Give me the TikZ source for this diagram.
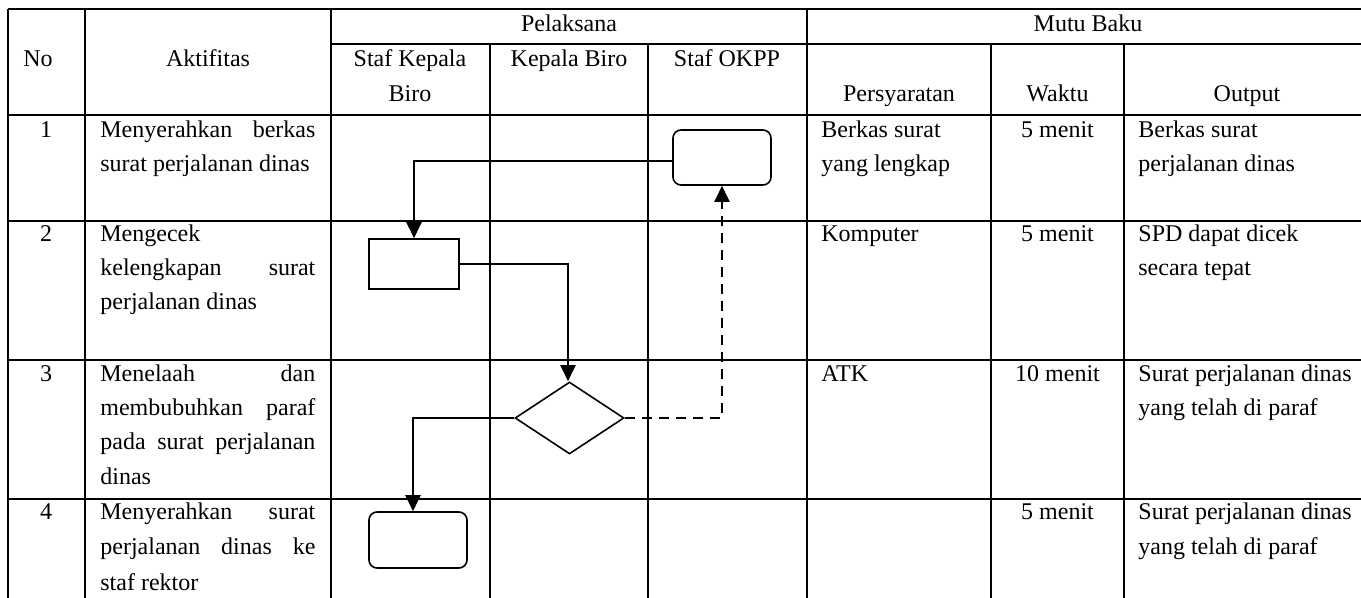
\documentclass[tikz,border=0pt]{standalone}
\usepackage{fontspec}
\setmainfont{Liberation Serif}
\usetikzlibrary{arrows.meta,shapes.geometric}
\begin{document}
\begin{tikzpicture}[x=0.5pt,y=-0.5pt,
  tbl/.style={line width=1.2pt},
  txt/.style={inner sep=0pt, font=\fontsize{12pt}{17pt}\selectfont},
  lt/.style={txt, anchor=base west},
  ct/.style={txt, anchor=base},
  shp/.style={draw, line width=0.8pt, inner sep=0pt},
  flow/.style={line width=1.1pt, -{Triangle[width=7.5pt,length=8pt]}},
  dash line/.style={dash pattern=on 5pt off 3.5pt}
]
\useasboundingbox (0,0) rectangle (1361,598);
\newcommand{\jline}[2]{\hbox to 107.5pt{#1\hfill #2}}
% table grid
\draw[tbl] (8,9) -- (1361,9);
\draw[tbl] (331,44) -- (1361,44);
\draw[tbl] (8,115) -- (1361,115);
\draw[tbl] (8,221) -- (1361,221);
\draw[tbl] (8,360) -- (1361,360);
\draw[tbl] (8,499) -- (1361,499);
\draw[tbl] (8,9) -- (8,598);
\draw[tbl] (85,9) -- (85,598);
\draw[tbl] (331,9) -- (331,598);
\draw[tbl] (490,44) -- (490,598);
\draw[tbl] (648,44) -- (648,598);
\draw[tbl] (807,9) -- (807,598);
\draw[tbl] (991,44) -- (991,598);
\draw[tbl] (1124,44) -- (1124,598);
% header
\node[ct] (hpel) at (569,32) {Pelaksana};
\node[ct] (hmutu) at (1088,32) {Mutu Baku};
\node[lt] (hno) at (23,67) {No};
\node[ct] (hakt) at (208,67) {Aktifitas};
\node[ct] (hskb1) at (410,67) {Staf Kepala};
\node[ct] (hskb2) at (410,102) {Biro};
\node[ct] (hkb) at (569,67) {Kepala Biro};
\node[ct] (hokpp) at (727,67) {Staf OKPP};
\node[ct] (hpers) at (899,102) {Persyaratan};
\node[ct] (hwak) at (1057.5,102) {Waktu};
\node[ct] (hout) at (1247,102) {Output};
% numbers
\node[ct] (n1) at (46,138) {1};
\node[ct] (n2) at (46,242) {2};
\node[ct] (n3) at (46,382) {3};
\node[ct] (n4) at (46,520) {4};
% aktifitas
\node[lt] (a1a) at (100,138) {\jline{Menyerahkan}{berkas}};
\node[lt] (a1b) at (100,172) {surat perjalanan dinas};
\node[lt] (a2a) at (100,242) {Mengecek};
\node[lt] (a2b) at (100,276) {\jline{kelengkapan}{surat}};
\node[lt] (a2c) at (100,310) {perjalanan dinas};
\node[lt] (a3a) at (100,382) {\jline{Menelaah}{dan}};
\node[lt] (a3b) at (100,416) {\jline{membubuhkan}{paraf}};
\node[lt] (a3c) at (100,450) {\hbox to 107.5pt{pada\hfill surat\hfill perjalanan}};
\node[lt] (a3d) at (100,485) {dinas};
\node[lt] (a4a) at (100,520) {\jline{Menyerahkan}{surat}};
\node[lt] (a4b) at (100,555) {\hbox to 107.5pt{perjalanan\hfill dinas\hfill ke}};
\node[lt] (a4c) at (100,590) {staf rektor};
% persyaratan
\node[lt] (p1a) at (821,138) {Berkas surat};
\node[lt] (p1b) at (821,172) {yang lengkap};
\node[lt] (p2) at (821,242) {Komputer};
\node[lt] (p3) at (821,382) {ATK};
% waktu
\node[ct] (w1) at (1057.5,138) {5 menit};
\node[ct] (w2) at (1057.5,242) {5 menit};
\node[ct] (w3) at (1057.5,382) {10 menit};
\node[ct] (w4) at (1057.5,520) {5 menit};
% output
\node[lt] (o1a) at (1138,138) {Berkas surat};
\node[lt] (o1b) at (1138,172) {perjalanan dinas};
\node[lt] (o2a) at (1138,242) {SPD dapat dicek};
\node[lt] (o2b) at (1138,276) {secara tepat};
\node[lt] (o3a) at (1138,382) {Surat perjalanan dinas};
\node[lt] (o3b) at (1138,416) {yang telah di paraf};
\node[lt] (o4a) at (1138,520) {Surat perjalanan dinas};
\node[lt] (o4b) at (1138,555) {yang telah di paraf};
% flow shapes
\node[shp, rounded corners=4pt, minimum width=49pt, minimum height=27.5pt] (r1) at (722,157.5) {};
\node[shp, minimum width=45pt, minimum height=25pt] (r2) at (414,264) {};
\node[shp, diamond, minimum width=54.5pt, minimum height=36pt] (d) at (569.5,418) {};
\node[shp, rounded corners=4pt, minimum width=49pt, minimum height=28pt] (r4) at (418,540) {};
% connectors
\draw[flow] ([yshift=-1.75pt]r1.west) -| (r2.north);
\draw[flow] (r2.east) -| ([xshift=-0.75pt]d.north);
\draw[flow] (d.west) -| ([xshift=-2.5pt]r4.north);
\draw[flow, dash line] (d.east) -| (r1.south);
\end{tikzpicture}
\end{document}
